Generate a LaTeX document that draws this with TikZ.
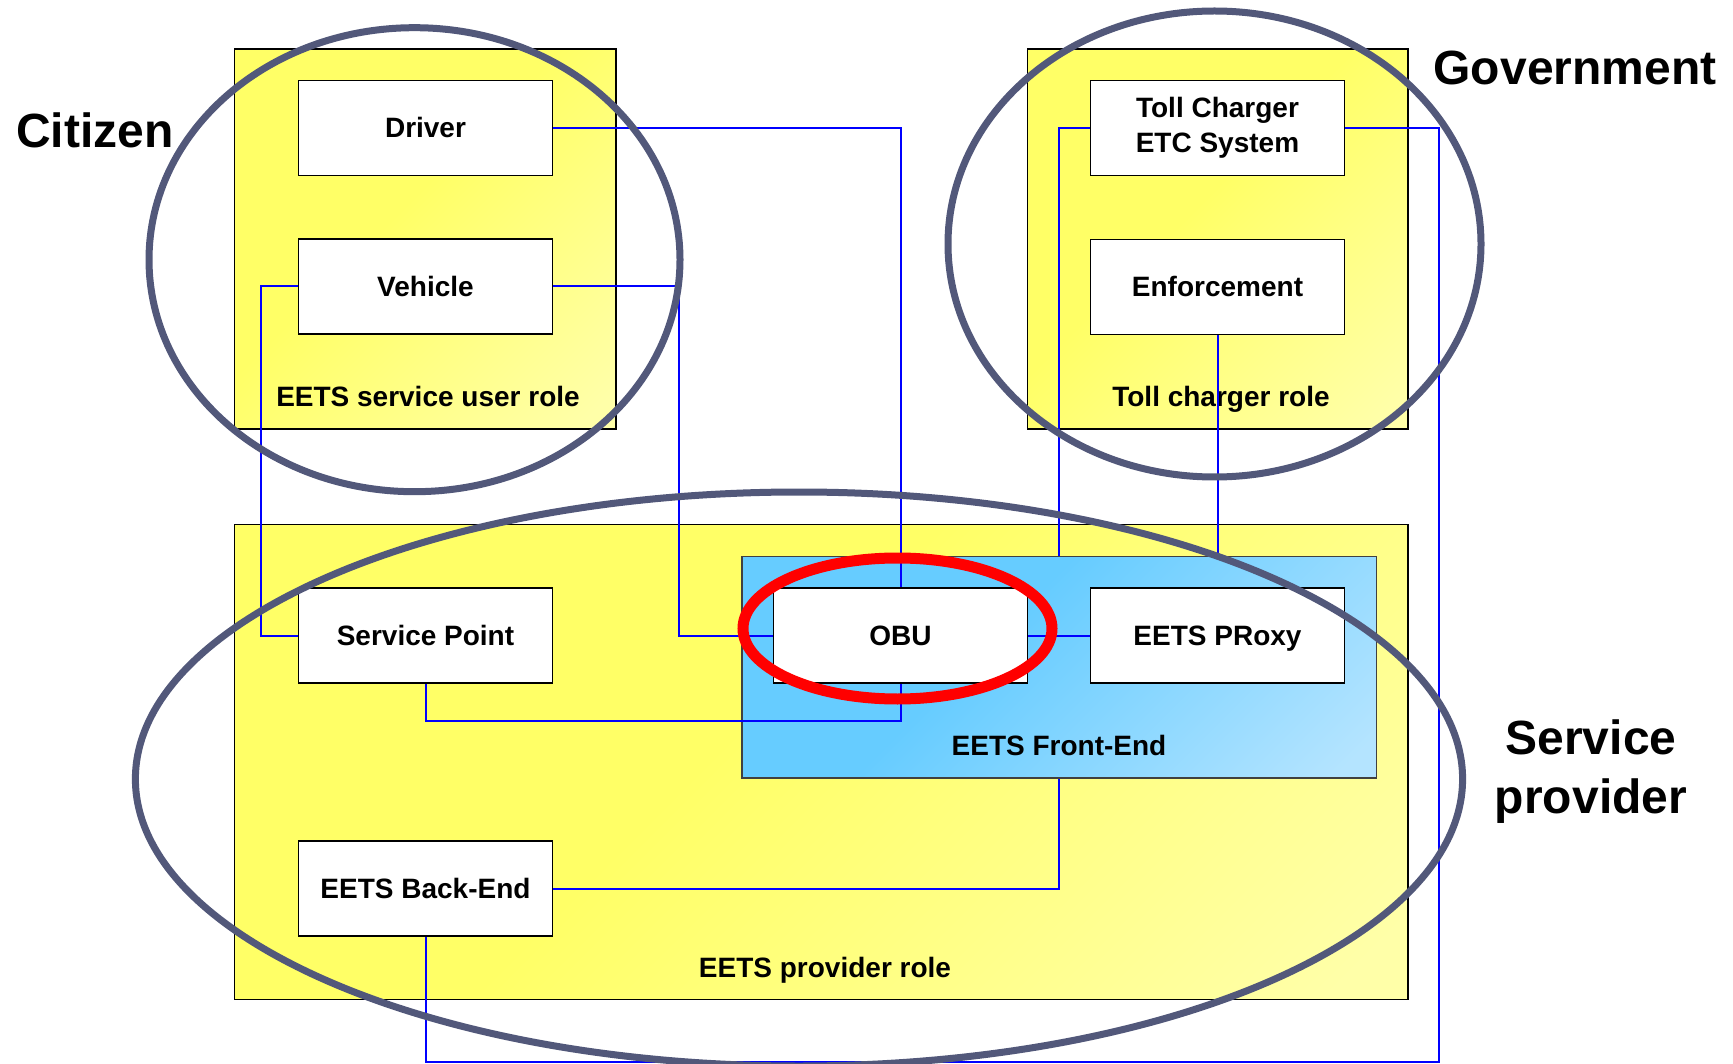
\documentclass[tikz,border=0pt]{standalone}
\usepackage{fontspec}
\setmainfont{Liberation Sans}
\definecolor{yA}{RGB}{255,255,102}
\definecolor{yB}{RGB}{255,255,168}
\definecolor{bA}{RGB}{102,204,255}
\definecolor{bB}{RGB}{180,228,255}
\definecolor{grp}{RGB}{82,88,122}
\pgfdeclareverticalshading{ylwshade}{100bp}{color(0bp)=(yB); color(18bp)=(yB); color(55bp)=(yA); color(100bp)=(yA)}
\pgfdeclareverticalshading{blushade}{100bp}{color(0bp)=(bB); color(18bp)=(bB); color(58bp)=(bA); color(100bp)=(bA)}
\begin{document}
\begin{tikzpicture}[x=1pt,y=-1pt,
  every node/.style={font=\bfseries\fontsize{28}{35}\selectfont, inner sep=0pt},
  role/.style={draw=black, line width=1.5pt, shade, shading=ylwshade, shading angle=45},
  fe/.style={draw=black!75, line width=1.5pt, shade, shading=blushade, shading angle=45},
  boxbase/.style={draw=black, line width=1.5pt, fill=white, minimum width=254pt, minimum height=95pt},
  box/.style={boxbase, text height=20pt, text depth=0pt},
  conn/.style={draw=blue, line width=2pt},
  group/.style={draw=grp, line width=7pt},
  hl/.style={draw=red, line width=11pt},
  lab/.style={anchor=base},
  big/.style={font=\bfseries\fontsize{48}{59}\selectfont}
]
\useasboundingbox (0,0) rectangle (1733,1064);

% role containers
\node[role, minimum width=381.5pt, minimum height=380pt] (ur) at (425.25,239) {};
\node[role, minimum width=380.5pt, minimum height=380pt] (tr) at (1217.75,239) {};
\node[role, minimum width=1173.5pt, minimum height=475pt] (pr) at (821.25,762) {};
\node[fe, minimum width=634.5pt, minimum height=221.7pt] (fe) at (1059.25,667.15) {};

% container labels
\node[lab] (urlab) at (428,407) {EETS service user role};
\node[lab] (trlab) at (1221,407) {Toll charger role};
\node[lab] (felab) at (1059,755) {EETS Front-End};
\node[lab] (prlab) at (825,977) {EETS provider role};

% boxes
\node[box] (drv) at (425.5,128) {Driver};
\node[box] (veh) at (425.5,286.5) {Vehicle};
\node[boxbase, align=center] (tcs) at (1217.5,128) {Toll Charger\\ETC System};
\node[box] (enf) at (1217.5,287) {Enforcement};
\node[box] (sp) at (425.5,635.5) {Service Point};
\node[box] (obu) at (900.5,635.5) {OBU};
\node[box] (prx) at (1217.5,635.5) {EETS PRoxy};
\node[box] (be) at (425.5,888.5) {EETS Back-End};

% connectors
\coordinate (vl) at (261,286.5);
\coordinate (vr) at (679,286.5);
\coordinate (cr) at (1439,1062);
\draw[conn] (drv.east) -| (obu.north);
\draw[conn] (veh.west) -- (vl) |- (sp.west);
\draw[conn] (veh.east) -- (vr) |- (obu.west);
\draw[conn] (sp.south) -- ++(0,37) -| (obu.south);
\draw[conn] (obu.east) -- (prx.west);
\draw[conn] (tcs.west) -| (fe.north);
\draw[conn] (enf.south) -- (enf.south |- fe.north);
\draw[conn] (tcs.east) -| (cr) -| (be.south);
\draw[conn] (be.east) -| (fe.south);

% grouping ellipses
\draw[group] (414.5,259.7) ellipse [x radius=265.5, y radius=232];
\draw[group] (1214.5,244) ellipse [x radius=266.5, y radius=233];
\draw[group] (799,779) ellipse [x radius=663.6, y radius=287];
\draw[hl] (897.5,628.5) ellipse [x radius=154.5, y radius=70.5];

% group labels
\node[big, lab] (cit) at (95,148) {Citizen};
\node[big, lab] (gov) at (1575,85) {Government};
\node[big, align=center] (spv) at (1591,772) {Service\\provider};
\end{tikzpicture}
\end{document}
